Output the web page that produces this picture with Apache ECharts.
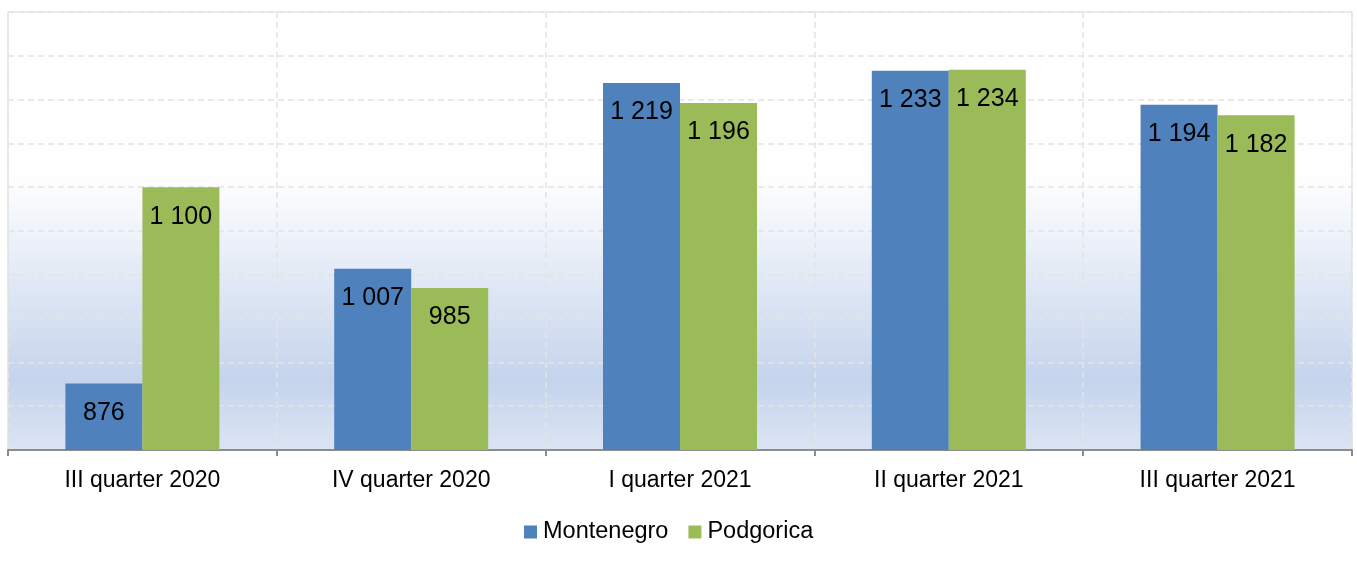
<!DOCTYPE html>
<html>
<head>
<meta charset="utf-8">
<script src="https://cdn.jsdelivr.net/npm/echarts@6/dist/echarts.min.js"></script>
<style>html,body{margin:0;padding:0;background:#fff;}#c{width:1357px;height:567px;}</style>
</head>
<body>
<div id="c"></div>
<script>
const categories = ['III quarter 2020', 'IV quarter 2020', 'I quarter 2021', 'II quarter 2021', 'III quarter 2021'];
const montenegro = [876, 1007, 1219, 1233, 1194];
const podgorica = [1100, 985, 1196, 1234, 1182];
const seriesNames = ['Montenegro', 'Podgorica'];

const fmt = v => String(v).replace(/\B(?=(\d{3})+(?!\d))/g, ' ');
const font = '"Liberation Sans", Arial, sans-serif';
const chart = echarts.init(document.getElementById('c'));
const labelCfg = {
  show: true, position: 'insideTop', distance: 17, color: '#000',
  fontSize: 25, fontFamily: font,
  formatter: p => fmt(p.value)
};
chart.setOption({
  animation: false,
  textStyle: { fontFamily: font },
  grid: {
    left: 8, right: 5, top: 12, bottom: 117, containLabel: false,
    show: true, borderColor: '#d9d9d9', borderWidth: 1,
    backgroundColor: new echarts.graphic.LinearGradient(0, 0, 0, 1, [
      { offset: 0, color: '#ffffff' },
      { offset: 0.38, color: '#fefeff' },
      { offset: 0.84, color: '#c5d4ec' },
      { offset: 1, color: '#dbe4f3' }
    ])
  },
  legend: {
    data: seriesNames, top: 515, left: 519,
    icon: 'rect', itemWidth: 13, itemHeight: 13, itemGap: 20,
    textStyle: { fontSize: 23.5, color: '#000', fontFamily: font, padding: [0, 0, 0, 1] }
  },
  xAxis: {
    type: 'category', data: categories,
    axisLine: { lineStyle: { color: '#8c8c8c', width: 2 } },
    axisTick: { show: true, length: 6, lineStyle: { color: '#8c8c8c', width: 2 } },
    axisLabel: { fontSize: 23, color: '#000', margin: 19, fontFamily: font },
    splitLine: { show: true, lineStyle: { color: '#e3e3e3', type: [6, 4], width: 1.5 } }
  },
  yAxis: {
    type: 'value', min: 800, max: 1300, interval: 50,
    axisLine: { show: false }, axisTick: { show: false }, axisLabel: { show: false },
    splitLine: { show: true, lineStyle: { color: '#e3e3e3', type: [6, 4], width: 1.5 } }
  },
  series: [
    { name: seriesNames[0], type: 'bar', data: montenegro, barWidth: 77, barGap: '0%',
      itemStyle: { color: '#4f81bd' }, label: labelCfg },
    { name: seriesNames[1], type: 'bar', data: podgorica, barWidth: 77,
      itemStyle: { color: '#9bbb59' }, label: labelCfg }
  ]
});
</script>
</body>
</html>
